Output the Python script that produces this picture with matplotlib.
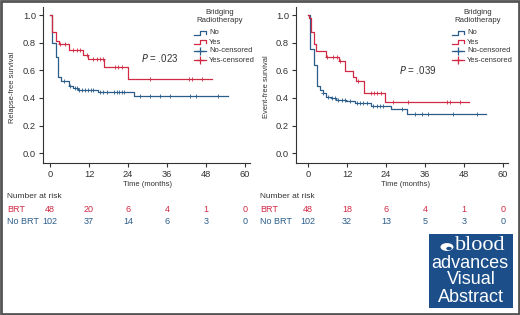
import numpy as np
import matplotlib
matplotlib.use("Agg")
import matplotlib.pyplot as plt
from matplotlib.lines import Line2D
from matplotlib.patches import Rectangle, Circle
from matplotlib.transforms import blended_transform_factory

# ---- data ----
# Relapse-free survival (left panel)
rfs_brt_t = [0, 0.5, 1.75, 2.9, 5.9, 10.0, 11.8, 16.6, 23.9, 49.7]
rfs_brt_s = [1.0, 0.88, 0.815, 0.79, 0.745, 0.713, 0.68, 0.625, 0.538, 0.538]
rfs_brt_cens = [3.1, 4.6, 7.2, 8.2, 9.2, 11.3, 13.3, 14.4, 15.4, 16.2, 20.0, 21.0,
                22.1, 30.8, 42.8, 43.7, 46.7]
rfs_no_t = [0, 0.5, 1.9, 2.6, 3.3, 5.9, 7.2, 8.7, 14.9, 25.9, 54.8]
rfs_no_s = [1.0, 0.80, 0.695, 0.55, 0.52, 0.487, 0.47, 0.46, 0.445, 0.413, 0.413]
rfs_no_cens = [4.2, 6.2, 7.7, 8.2, 9.0, 9.7, 10.8, 11.8, 12.5, 13.3, 15.4, 16.4,
               17.4, 19.7, 20.5, 21.3, 22.1, 22.8, 27.7, 30.8, 33.8, 36.9, 43.0,
               45.0, 51.8]

# Event-free survival (right panel)
efs_brt_t = [0, 0.3, 1.0, 1.8, 2.6, 5.4, 9.4, 11.5, 13.8, 14.7, 17.2, 23.6, 49.6]
efs_brt_s = [1.0, 0.98, 0.875, 0.79, 0.74, 0.70, 0.665, 0.595, 0.555, 0.52, 0.435,
             0.372, 0.372]
efs_brt_cens = [5.7, 7.8, 8.8, 9.8, 15.4, 19.5, 20.3, 21.3, 22.6, 26.0, 30.9, 42.7,
                43.7, 46.8]
efs_no_t = [0, 0.7, 1.8, 2.8, 3.6, 4.6, 5.6, 7.2, 8.7, 11.8, 14.4, 19.5, 25.6, 30.6, 54.8]
efs_no_s = [1.0, 0.755, 0.64, 0.49, 0.455, 0.435, 0.41, 0.40, 0.388, 0.375, 0.362,
            0.345, 0.32, 0.28, 0.28]
efs_no_cens = [4.7, 6.2, 7.3, 8.3, 9.3, 10.4, 11.4, 12.9, 15.0, 16.0, 17.0, 18.1,
               20.1, 21.1, 22.2, 23.2, 28.8, 32.9, 35.0, 37.0, 44.7, 51.9]

risk_times = [0, 12, 24, 36, 48, 60]
rfs_risk_brt = [48, 20, 6, 4, 1, 0]
rfs_risk_no = [102, 37, 14, 6, 3, 0]
efs_risk_brt = [48, 18, 6, 4, 1, 0]
efs_risk_no = [102, 32, 13, 5, 3, 0]

RED = "#d02a45"
BLUE = "#2b5d8a"
TXT = "#333333"

plt.rcParams['font.family'] = "Liberation Sans"
SERIF = "Liberation Serif"

W, H = 520, 315
fig = plt.figure(figsize=(W / 100, H / 100), dpi=100)


def fx(px):
    return px / W


def fy(py):
    return 1 - py / H


def step_value(t, s, x):
    i = np.searchsorted(t, x, side='right') - 1
    return np.asarray(s)[i]


def draw_panel(ax_left_px, x0, ylabel, pval, pval_xy, curves, legend_x, risk):
    xmin = -(x0 - ax_left_px) / 3.25
    xmax = 61.5
    ax = fig.add_axes([fx(ax_left_px), fy(163), (xmax - xmin) * 3.25 / W, 156 / H])
    ax.set_xlim(xmin, xmax)
    ax.set_ylim(-0.072, 1.06)
    for t, s, cens, col in curves:
        ax.step(t, s, where='post', color=col, lw=0.9)
        ax.plot(cens, step_value(t, s, cens), ls='none', marker='+', ms=2.4,
                mew=0.6, color=col)
    for sp in ['top', 'right']:
        ax.spines[sp].set_visible(False)
    for sp in ['left', 'bottom']:
        ax.spines[sp].set_color(TXT)
        ax.spines[sp].set_linewidth(0.8)
    ax.set_xticks([0, 12, 24, 36, 48, 60])
    ax.set_yticks([0, 0.2, 0.4, 0.6, 0.8, 1.0])
    ax.set_yticklabels(["0.0", "0.2", "0.4", "0.6", "0.8", "1.0"])
    ax.tick_params(labelsize=6.7, colors=TXT, length=3, width=0.8, pad=2)
    # axis titles (narrow in the original, so kept small here)
    fig.text(fx(ax_left_px - 30), fy(87), ylabel, rotation=90, ha='center',
             va='center', fontsize=5.4, color=TXT)
    fig.text(fx(x0 + 97.5), fy(185), "Time (months)", ha='center', va='center',
             fontsize=5.5, color=TXT)
    # p value
    fig.text(fx(pval_xy[0]), fy(pval_xy[1]), r"$\it{P}$" + " = " + pval,
             ha='center', va='center', fontsize=7, color=TXT)
    # legend
    fig.text(fx(legend_x + 11), fy(12), "Bridging", ha='center', va='center',
             fontsize=5.6, color=TXT)
    fig.text(fx(legend_x + 11), fy(21), "Radiotherapy", ha='center', va='center',
             fontsize=5.6, color=TXT)
    items = [("No", BLUE, 'step'), ("Yes", RED, 'step'),
             ("No-censored", BLUE, 'cens'), ("Yes-censored", RED, 'cens')]
    for k, (lab, col, kind) in enumerate(items):
        yy = 33 + k * 9
        hx0, hx1 = legend_x - 15, legend_x - 3
        if kind == 'step':
            xs = [hx0, hx0 + 6, hx0 + 6, hx1, hx1]
            ys = [yy + 2, yy + 2, yy - 2, yy - 2, yy + 1]
            fig.add_artist(Line2D([fx(v) for v in xs], [fy(v) for v in ys],
                                  color=col, lw=0.9))
        else:
            fig.add_artist(Line2D([fx(hx0), fx(hx1)], [fy(yy), fy(yy)],
                                  color=col, lw=0.9))
            fig.add_artist(Line2D([fx((hx0 + hx1) / 2)], [fy(yy)], marker='+',
                                  ms=6, mew=0.9, color=col))
        fig.text(fx(legend_x), fy(yy), lab, ha='left', va='center',
                 fontsize=5.4, color=TXT)
    # number at risk
    tr = blended_transform_factory(ax.transData, fig.transFigure)
    lab_x = ax_left_px - 36
    fig.text(fx(lab_x), fy(197), "Number at risk", ha='left', va='center',
             fontsize=6, color=TXT)
    fig.text(fx(lab_x), fy(210), "BRT", ha='left', va='center', fontsize=6.5,
             color=RED)
    fig.text(fx(lab_x), fy(222), "No BRT", ha='left', va='center', fontsize=6.5,
             color=BLUE)
    brt, nobrt = risk
    for t, a, b in zip(risk_times, brt, nobrt):
        ax.text(t, fy(210), str(a), transform=tr, ha='center', va='center',
                fontsize=6.5, color=RED)
        ax.text(t, fy(222), str(b), transform=tr, ha='center', va='center',
                fontsize=6.5, color=BLUE)
    return ax


draw_panel(43, 50, "Relapse-free survival", ".023", (160, 58),
           [(rfs_no_t, rfs_no_s, rfs_no_cens, BLUE),
            (rfs_brt_t, rfs_brt_s, rfs_brt_cens, RED)],
           209, (rfs_risk_brt, rfs_risk_no))
draw_panel(296, 308, "Event-free survival", ".039", (418, 70),
           [(efs_no_t, efs_no_s, efs_no_cens, BLUE),
            (efs_brt_t, efs_brt_s, efs_brt_cens, RED)],
           467, (efs_risk_brt, efs_risk_no))

# blood advances visual abstract badge
LOGO = "#1c4f8a"
fig.add_artist(Rectangle((fx(429), fy(308)), fx(84), 74 / H, facecolor=LOGO,
                         edgecolor='none', transform=fig.transFigure))
fig.add_artist(Circle((fx(447), fy(247)), 6.5 / W, facecolor='white',
                      edgecolor='none', transform=fig.transFigure))
fig.add_artist(Circle((fx(449), fy(248.5)), 2.8 / W, facecolor=LOGO,
                      edgecolor='none', transform=fig.transFigure))
fig.text(fx(480), fy(246), "blood", ha='center', va='center', fontsize=16,
         family=SERIF, color='white')
fig.text(fx(470), fy(264), "advances", ha='center', va='center', fontsize=13,
         color='white')
fig.text(fx(471), fy(280), "Visual", ha='center', va='center', fontsize=13,
         color='white')
fig.text(fx(471), fy(297), "Abstract", ha='center', va='center', fontsize=13,
         color='white')

# outer frame
fig.add_artist(Rectangle((0.001, 0.002), 0.997, 0.996, facecolor='none',
                         edgecolor='#555555', lw=2, transform=fig.transFigure))

fig.savefig("out.png", dpi=100)
